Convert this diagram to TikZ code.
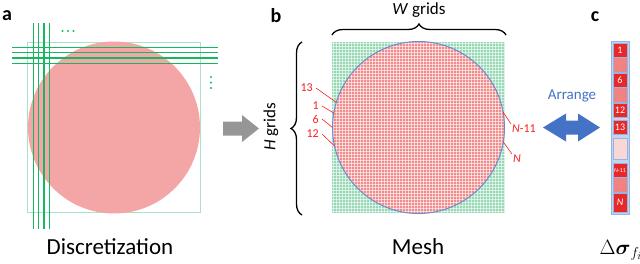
\documentclass[tikz,border=0pt]{standalone}
\usepackage{fontspec}
\setmainfont{Carlito}
\usepackage{amsmath}
\usetikzlibrary{decorations.pathreplacing}

\definecolor{discgreen}{RGB}{20,185,95}
\definecolor{boxgreen}{RGB}{170,225,200}
\definecolor{discpink}{RGB}{244,166,166}
\definecolor{meshgreen}{RGB}{150,215,180}
\definecolor{meshpink}{RGB}{240,140,140}
\definecolor{rimblue}{RGB}{110,140,210}
\definecolor{tagred}{RGB}{250,30,30}
\definecolor{cellred}{RGB}{232,40,40}
\definecolor{celldots}{RGB}{240,130,130}
\definecolor{cellpale}{RGB}{250,215,215}
\definecolor{stripblue}{RGB}{195,212,238}
\definecolor{striprim}{RGB}{150,180,225}
\definecolor{arrangeblue}{RGB}{68,114,196}
\definecolor{arrowgray}{RGB}{150,150,150}

\begin{document}
\begin{tikzpicture}[x=1pt,y=-1pt]
    \tikzset{panel/.style = {font=\fontsize{20}{20}\selectfont\bfseries}}
    \tikzset{caption/.style = {font=\fontsize{23}{23}\selectfont}}
    \tikzset{gridtext/.style = {font=\fontsize{17}{17}\selectfont}}
    \tikzset{tag/.style = {text=tagred, inner sep=1pt, font=\fontsize{12}{12}\selectfont}}
    \tikzset{leader/.style = {draw=tagred, line width=0.6pt}}
    \tikzset{cutline/.style = {draw=discgreen, line width=1.3pt}}
    \tikzset{meshline/.style = {draw=white, draw opacity=0.6, line width=1pt}}
    \tikzset{brace/.style = {decorate, decoration={brace, amplitude=11pt}, line width=1.3pt}}
    \tikzset{cell/.style = {draw=striprim, line width=0.6pt, minimum width=14, inner sep=0pt, text=white}}
    \tikzset{cellfull/.style = {fill=cellred, font=\fontsize{10}{10}\selectfont}}
    \tikzset{cellsmall/.style = {fill=cellred, font=\fontsize{6}{6}\selectfont}}
    \tikzset{celldot/.style = {fill=celldots, text=white!70!celldots, font=\fontsize{5}{5}\selectfont}}
    \tikzset{cellpale/.style = {fill=cellpale, text=white!60!cellpale, font=\fontsize{6}{6}\selectfont}}

    \useasboundingbox (0,0) rectangle (640,263);

    % a: discretization
    \node[panel] (pa) at (7,16) {a};
    \draw[boxgreen, line width=1pt] (27.5,42.5) rectangle (200.5,212.5);
    \fill[discpink] (114,127.5) circle (86);
    \foreach \x in {33.3,38.6,43.9,49.2}
        \draw[cutline] (\x,23) -- (\x,229);
    \foreach \y in {47.3,52.6,57.9,63.2}
        \draw[cutline] (12,\y) -- (218,\y);
    \foreach \x in {62.5,68,73.5}
        \fill[discgreen] (\x,31) circle (1.2);
    \foreach \y in {77,82.5,88}
        \fill[discgreen] (211,\y) circle (1.2);
    \node[caption] (capa) at (110,247) {Discretization};

    % gray arrow
    \fill[arrowgray] (223,121.5) -- (242,121.5) -- (242,115) -- (259,128.5)
        -- (242,142) -- (242,135.5) -- (223,135.5) -- cycle;

    % b: mesh
    \node[panel] (pb) at (276,16) {b};
    \fill[meshgreen] (332,42) rectangle (505,213);
    \coordinate (mc) at (418.5,127.5);
    \fill[meshpink] (mc) circle (86);
    \foreach \i in {0,...,57} {
        \draw[meshline] ({333.5+\i*3},42) -- ({333.5+\i*3},213);
        \draw[meshline] (332,{43.5+\i*3}) -- (505,{43.5+\i*3});
    }
    \draw[rimblue, line width=1pt] (mc) circle (86);

    \node[gridtext] (wlab) at (419,10) {\textit{W} grids};
    \draw[brace] (332,35) -- (506,35);
    \node[gridtext, rotate=90] (hlab) at (271,127) {\textit{H} grids};
    \draw[brace] (302,215) -- (302,42);

    % boundary labels
    \foreach \txt/\tx/\ty/\ang in {13/314/88/197, 1/320/106/189.7, 6/320/119/180, 12/320/134/167.6} {
        \node[tag, anchor=east] (t\txt) at (\tx,\ty) {\txt};
        \coordinate (r\txt) at ([shift={(\ang:86)}]mc);
        \draw[leader] ([xshift=2pt]t\txt.east) -- (r\txt);
    }
    \node[tag, anchor=west] (tN11) at (511,129) {\textit{N}-11};
    \coordinate (rN11) at ([shift={(-10.4:86)}]mc);
    \draw[leader] (rN11) -- (tN11.north west);
    \node[tag, anchor=west] (tN) at (512,159) {\textit{N}};
    \coordinate (rN) at ([shift={(9.7:86)}]mc);
    \draw[leader] (rN) -- (tN.north west);

    \node[caption] (capb) at (418,247) {Mesh};

    % c: arranged column
    \node[panel] (pc) at (595,17) {c};
    \node[text=arrangeblue, font=\fontsize{15}{15}\selectfont] (arr) at (572,96) {Arrange};
    \fill[arrangeblue] (543,127.5) -- (566,113.5) -- (566,120.5) -- (578,120.5) -- (578,113.5)
        -- (600,127.5) -- (578,141.5) -- (578,134.5) -- (566,134.5) -- (566,141.5) -- cycle;

    \filldraw[fill=stripblue, draw=striprim, line width=0.8pt] (611,41) rectangle (629,214);
    \foreach \yc/\hh/\sty/\txt [count=\k] in {50/14/cellfull/1, 64.5/7/celldot/$\vdots$,
            80/14/cellfull/6, 94.5/7/celldot/$\vdots$, 110/14/cellfull/12, 127/14/cellfull/13,
            148.5/21/cellpale/$\vdots$, 170.5/15/cellsmall/\textit{N}-11, 185/8/celldot/$\vdots$,
            202.5/19/cellfull/\textit{N}}
        \node[cell, \sty, minimum height=\hh] (cell\k) at (620,\yc) {\txt};

    \node[anchor=base west, font=\fontsize{22}{22}\selectfont] (dsig) at (596,254) {$\Delta\boldsymbol{\sigma}_{f_i}$};
\end{tikzpicture}
\end{document}
